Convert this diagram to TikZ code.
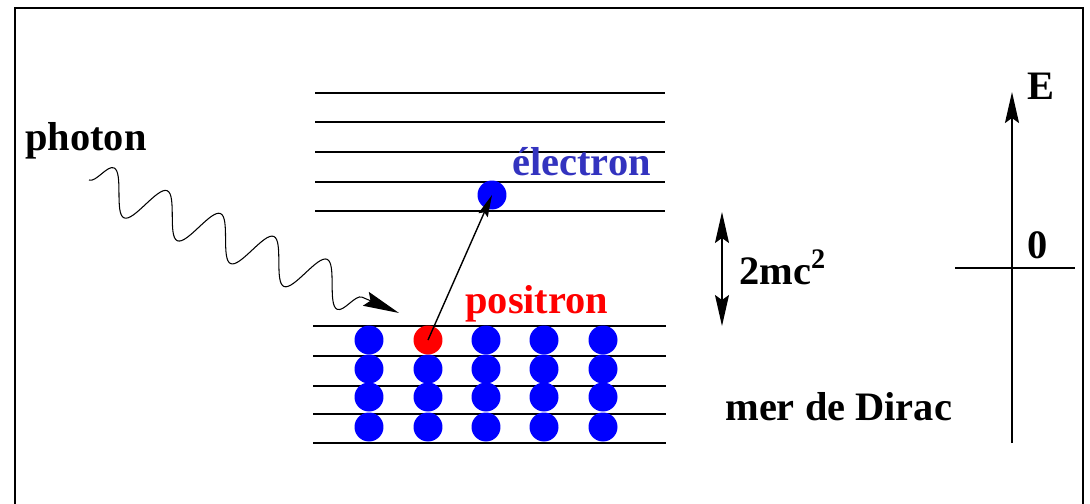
\documentclass[tikz,border=0pt]{standalone}
\usepackage{fontspec}
\setmainfont{Liberation Serif}
\usepackage{tikz}
\usetikzlibrary{
    arrows.meta,
    decorations.pathmorphing,
    positioning
}
\usepackage{xcolor}
\definecolor{elblue}{rgb}{0.2, 0.2, 0.75}
\tikzstyle{eline} = [
    line width=1.1pt,
    draw=black
]
\tikzstyle{dot} = [
    circle,
    fill=blue,
    inner sep=0pt,
    minimum size=0.58cm
]
\tikzstyle{lbl} = [
    font=\fontsize{23}{27}\selectfont\bfseries,
    inner sep=0pt,
    anchor=base west
]
\tikzstyle{arrow} = [
    -{Stealth[length=0.62cm, width=0.28cm, inset=0.1cm]},
    line width=0.8pt
]
\tikzstyle{photon} = [
    -{Stealth[length=0.72cm, width=0.3cm, inset=0.1cm]},
    line width=0.6pt,
    decorate,
    decoration={snake, segment length=1.16cm, amplitude=0.42cm, post length=0.75cm}
]

\begin{document}
\begin{tikzpicture}[x=0.02cm, y=-0.02cm]
        \useasboundingbox (0,0) rectangle (1090,504);

        % Frame
        \draw[line width=1.3pt] (15,504) -- (15,8) -- (1083,8) -- (1083,504);

        % Levels above the gap
        \foreach \y in {93,122,152,182,211}
            \draw[eline] (315,\y) -- (665,\y);

        % Dirac sea levels
        \foreach \y in {326,356,386,414,443}
            \draw[eline] (313,\y) -- (666,\y);

        % Filled states
        \foreach \x in {369,428,486,544,603}
            \foreach \y in {369,397,427}
                \node[dot] (d-\x-\y) at (\x,\y) {};
        \foreach \x in {369,486,544,603}
            \node[dot] (d-\x-340) at (\x,340) {};
        \node[dot, fill=red] (pos) at (428,340) {};
        \node[dot] (el) at (492,195) {};

        % Pair creation
        \draw[arrow, -{Stealth[length=0.44cm, width=0.2cm, inset=0.06cm]}] (pos.center) -- (el.center);

        % Photon
        \coordinate (phs) at (89,180);
        \coordinate (pht) at (399,313);
        \draw[photon] (phs) -- (pht);

        % Gap
        \coordinate (gtop) at (722,212);
        \coordinate (gbot) at (722,326);
        \draw[arrow, {Stealth[length=0.62cm, width=0.28cm, inset=0.1cm]}-{Stealth[length=0.62cm, width=0.28cm, inset=0.1cm]}] (gbot) -- (gtop);

        % Energy axis
        \coordinate (Ebot) at (1012,443);
        \coordinate (Etop) at (1012,92);
        \coordinate (zl) at (955,268);
        \coordinate (zr) at (1075,268);
        \draw[arrow, line width=1.1pt] (Ebot) -- (Etop);
        \draw[line width=0.7pt] (zl) -- (zr);

        % Labels
        \node[lbl] (phl) at (25,150) {photon};
        \node[lbl, text=elblue] (ell) at (512,175) {électron};
        \node[lbl, text=red] (posl) at (465,313) {positron};
        \node[lbl] (gapl) at (739,284) {2mc\textsuperscript{2}};
        \node[lbl] (sea) at (725,420) {mer de Dirac};
        \node[lbl] (El) at (1027,99) {E};
        \node[lbl] (zero) at (1027,258) {0};
    \end{tikzpicture}
\end{document}
